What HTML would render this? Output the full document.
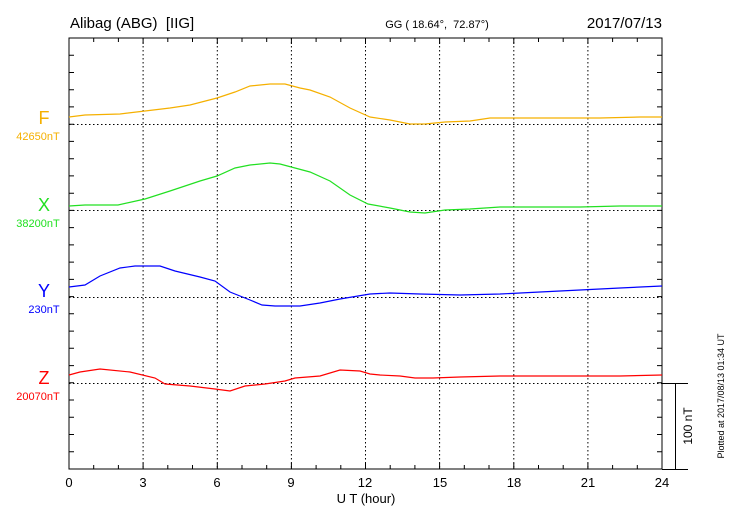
<!DOCTYPE html>
<html><head><meta charset="utf-8"><style>
html,body{margin:0;padding:0;background:#fff;}
svg{display:block;font-family:"Liberation Sans",sans-serif;}
</style></head><body>
<svg width="730" height="520" viewBox="0 0 730 520" xmlns="http://www.w3.org/2000/svg">
<rect width="730" height="520" fill="#fff"/>
<text x="70" y="28" font-size="15">Alibag (ABG)&#160; [IIG]</text>
<text x="437" y="28" font-size="11" text-anchor="middle">GG ( 18.64°,&#160; 72.87°)</text>
<text x="662" y="28" font-size="15" text-anchor="end">2017/07/13</text>
<g stroke="#000" stroke-width="1" stroke-dasharray="1.5,2.5" fill="none">
<line x1="143.1" y1="38" x2="143.1" y2="469"/>
<line x1="217.3" y1="38" x2="217.3" y2="469"/>
<line x1="291.4" y1="38" x2="291.4" y2="469"/>
<line x1="365.5" y1="38" x2="365.5" y2="469"/>
<line x1="439.6" y1="38" x2="439.6" y2="469"/>
<line x1="513.8" y1="38" x2="513.8" y2="469"/>
<line x1="587.9" y1="38" x2="587.9" y2="469"/>
<line x1="69" y1="124.5" x2="662" y2="124.5"/>
<line x1="69" y1="210.5" x2="662" y2="210.5"/>
<line x1="69" y1="297.5" x2="662" y2="297.5"/>
<line x1="69" y1="383.5" x2="662" y2="383.5"/>
</g>
<rect x="69" y="38" width="593" height="431" fill="none" stroke="#000" stroke-width="1"/>
<path stroke="#000" stroke-width="1" fill="none" d="
M93.7 38v4M118.4 38v4M143.1 38v6M167.8 38v4M192.5 38v4M217.3 38v6M242 38v4M266.7 38v4M291.4 38v6M316.1 38v4M340.8 38v4M365.5 38v6M390.2 38v4M414.9 38v4M439.6 38v6M464.3 38v4M489 38v4M513.8 38v6M538.5 38v4M563.2 38v4M587.9 38v6M612.6 38v4M637.3 38v4
M93.7 469v-4M118.4 469v-4M143.1 469v-6M167.8 469v-4M192.5 469v-4M217.3 469v-6M242 469v-4M266.7 469v-4M291.4 469v-6M316.1 469v-4M340.8 469v-4M365.5 469v-6M390.2 469v-4M414.9 469v-4M439.6 469v-6M464.3 469v-4M489 469v-4M513.8 469v-6M538.5 469v-4M563.2 469v-4M587.9 469v-6M612.6 469v-4M637.3 469v-4
M69 55.2h5M69 72.5h5M69 89.7h5M69 106.9h5M69 124.2h5M69 141.4h5M69 158.7h5M69 175.9h5M69 193.2h5M69 210.4h5M69 227.6h5M69 244.9h5M69 262.1h5M69 279.4h5M69 296.6h5M69 313.8h5M69 331.1h5M69 348.3h5M69 365.6h5M69 382.8h5M69 400h5M69 417.3h5M69 434.5h5M69 451.8h5
M662 55.2h-5M662 72.5h-5M662 89.7h-5M662 106.9h-5M662 124.2h-5M662 141.4h-5M662 158.7h-5M662 175.9h-5M662 193.2h-5M662 210.4h-5M662 227.6h-5M662 244.9h-5M662 262.1h-5M662 279.4h-5M662 296.6h-5M662 313.8h-5M662 331.1h-5M662 348.3h-5M662 365.6h-5M662 382.8h-5M662 400h-5M662 417.3h-5M662 434.5h-5M662 451.8h-5"/>
<g stroke="#000" stroke-width="1">
<line x1="662" y1="383.5" x2="688" y2="383.5"/>
<line x1="662" y1="469.5" x2="688" y2="469.5"/>
<line x1="675.5" y1="383.5" x2="675.5" y2="469.5"/>
</g>
<text transform="translate(692,426) rotate(-90)" font-size="12" text-anchor="middle">100 nT</text>
<text transform="translate(724,396) rotate(-90)" font-size="9" text-anchor="middle">Plotted at 2017/08/13 01:34 UT</text>
<g font-size="13" text-anchor="middle">
<text x="69" y="487">0</text><text x="143" y="487">3</text><text x="217" y="487">6</text><text x="291" y="487">9</text>
<text x="365" y="487">12</text><text x="440" y="487">15</text><text x="514" y="487">18</text><text x="588" y="487">21</text><text x="662" y="487">24</text>
<text x="366" y="503">U T (hour)</text>
</g>
<g text-anchor="middle">
<text x="44" y="124" font-size="18" fill="#f5b000">F</text>
<text x="38" y="140" font-size="11" fill="#f5b000">42650nT</text>
<text x="44" y="211" font-size="18" fill="#22e022">X</text>
<text x="38" y="227" font-size="11" fill="#22e022">38200nT</text>
<text x="44" y="297" font-size="18" fill="#0000ff">Y</text>
<text x="44" y="313" font-size="11" fill="#0000ff">230nT</text>
<text x="44" y="384" font-size="18" fill="#ff0000">Z</text>
<text x="38" y="400" font-size="11" fill="#ff0000">20070nT</text>
</g>
<g fill="none" stroke-width="1.2">
<polyline stroke="#f5b000" points="69,117 85,115 120,114 145,111 170,108 190,105 217,98 235,92 250,86 270,84 285,84 300,88 310,90 330,97 350,108 370,117 390,120 410,124 425,124 445,122 470,121 490,118 520,118 560,118 600,118 640,117 662,117"/>
<polyline stroke="#22e022" points="69,206 85,205 118,205 145,199 170,191 200,181 217,176 235,168 250,165 270,163 280,164 295,168 310,172 330,181 350,195 368,204 390,208 410,212 425,213 445,210 470,209 500,207 540,207 580,207 620,206 662,206"/>
<polyline stroke="#0000ff" points="69,287 85,285 100,276 120,268 135,266 160,266 175,271 200,277 215,281 230,292 250,300 262,305 275,306 300,306 320,303 340,299 370,294 390,293 420,294 460,295 500,294 540,292 580,290 620,288 662,286"/>
<polyline stroke="#ff0000" points="69,375 80,372 100,369 130,372 155,378 165,384 190,386 215,389 230,391 245,386 265,384 285,381 295,378 320,376 340,370 360,371 370,374 380,375 400,376 415,378 433,378 460,377 500,376 540,376 580,376 620,376 662,375"/>
</g>
</svg>
</body></html>
